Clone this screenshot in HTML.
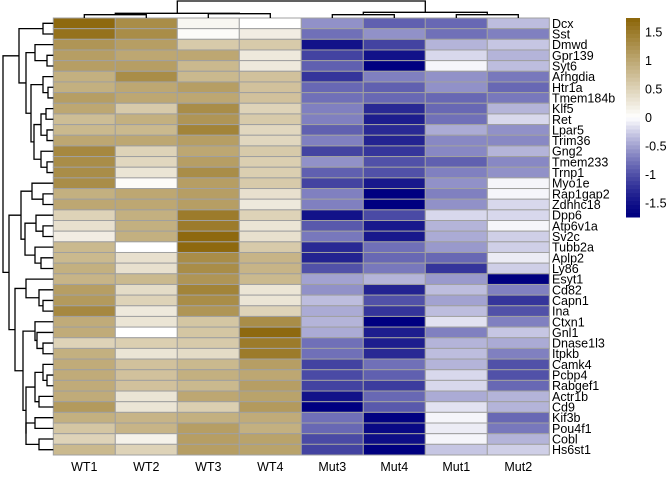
<!DOCTYPE html>
<html><head><meta charset="utf-8"><style>
body{margin:0;background:#fff;}
svg text{font-family:"Liberation Sans",Arial,sans-serif;}
</style></head><body>
<svg id="hm" width="672" height="480" xmlns="http://www.w3.org/2000/svg">
<rect width="672" height="480" fill="#fff"/>
<g id="cells"></g>
<g id="rowlab"></g>
<g id="collab"></g>
<g id="rowdend"></g>
<g id="coldend"></g>
<g id="legend"></g>
</svg>
<script>
const columns = ["WT1","WT2","WT3","WT4","Mut3","Mut4","Mut1","Mut2"];
const genes = ["Dcx","Sst","Dmwd","Gpr139","Syt6","Arhgdia","Htr1a","Tmem184b","Klf5","Ret","Lpar5","Trim36","Gng2","Tmem233","Trnp1","Myo1e","Rap1gap2","Zdhhc18","Dpp6","Atp6v1a","Sv2c","Tubb2a","Aplp2","Ly86","Esyt1","Cd82","Capn1","Ina","Ctxn1","Gnl1","Dnase1l3","Itpkb","Camk4","Pcbp4","Rabgef1","Actr1b","Cd9","Kif3b","Pou4f1","Cobl","Hs6st1"];
const values = [
[1.7,1.3,0.1,0.0,-0.6,-0.9,-0.85,-0.35],
[1.6,1.3,0.05,0.2,-0.8,-0.6,-0.8,-0.7],
[1.2,1.1,0.6,0.6,-1.5,-1.1,-0.4,-0.3],
[1.1,1.0,1.0,0.25,-1.1,-1.5,-0.2,-0.4],
[1.1,1.1,0.8,0.25,-0.9,-1.85,-0.05,-0.35],
[0.9,1.3,0.8,0.7,-1.2,-0.7,-0.6,-0.75],
[0.9,1.0,1.1,0.7,-0.85,-0.9,-0.6,-0.85],
[1.1,1.0,1.0,0.7,-0.8,-0.85,-0.85,-0.75],
[1.0,0.6,1.3,0.5,-0.7,-1.3,-0.85,-0.4],
[0.75,0.9,1.2,0.6,-0.7,-1.4,-0.8,-0.2],
[0.8,0.8,1.4,0.45,-0.9,-1.3,-0.45,-0.6],
[1.0,1.0,1.1,0.45,-0.7,-1.35,-0.65,-0.65],
[1.35,0.5,1.0,0.6,-1.1,-1.2,-0.65,-0.4],
[1.3,0.45,1.1,0.55,-0.6,-1.0,-0.9,-0.65],
[1.3,0.3,1.3,0.55,-0.9,-1.0,-0.7,-0.6],
[1.3,0.05,1.1,0.6,-1.1,-1.45,-0.6,-0.05],
[0.9,1.0,1.1,0.35,-0.7,-1.9,-0.7,-0.05],
[1.0,1.0,1.1,0.25,-0.7,-1.8,-0.6,-0.2],
[0.5,0.9,1.5,0.5,-1.5,-1.05,-0.2,-0.2],
[0.35,0.9,1.5,0.3,-0.95,-1.45,-0.4,-0.05],
[0.2,0.9,1.7,0.35,-0.75,-1.45,-0.45,-0.25],
[0.8,0.0,1.7,0.6,-1.3,-0.8,-0.55,-0.25],
[0.8,0.35,1.3,0.85,-1.35,-0.85,-0.85,-0.1],
[0.9,0.35,1.3,0.85,-1.0,-0.75,-1.2,-0.25],
[0.85,0.8,1.2,0.8,-0.5,-0.4,-0.55,-1.85],
[1.1,0.4,1.4,0.3,-0.6,-1.35,-0.35,-0.7],
[1.15,0.5,1.3,0.3,-0.35,-1.0,-0.5,-1.2],
[1.35,0.25,1.2,0.5,-0.45,-1.2,-0.35,-1.0],
[0.95,0.3,0.65,1.3,-0.4,-1.85,-0.15,-0.7],
[0.95,0.0,0.65,1.7,-0.45,-1.4,-0.7,-0.3],
[0.5,0.55,0.6,1.5,-0.8,-1.4,-0.4,-0.45],
[0.9,0.3,0.4,1.5,-0.8,-1.3,-0.35,-0.7],
[0.95,0.7,0.8,1.1,-1.1,-0.8,-0.4,-1.0],
[0.95,0.7,0.9,1.0,-1.05,-0.9,-0.2,-1.0],
[0.95,0.7,0.8,1.1,-1.1,-1.15,-0.2,-0.85],
[0.95,0.3,1.0,1.05,-1.5,-0.85,-0.45,-0.4],
[1.15,0.3,0.55,1.15,-1.75,-0.95,-0.15,-0.4],
[0.9,0.85,0.9,0.95,-0.8,-1.7,-0.05,-0.85],
[0.65,0.85,1.1,0.9,-0.85,-1.6,-0.1,-0.75],
[0.5,0.15,1.1,1.05,-1.05,-1.55,-0.05,-0.4],
[0.8,0.5,1.1,1.05,-1.1,-1.75,-0.3,-0.25]
];
const legendTicks = [1.5,1,0.5,0,-0.5,-1,-1.5];
const vMin = -1.75, vMax = 1.75;

const NS="http://www.w3.org/2000/svg";
const X0=53.3, CW=62, Y0=18, RH=(455-18)/41;
const xCol=i=>X0+i*CW, yRow=i=>Y0+i*RH;
function color(v){
  let t=(v-vMin)/(vMax-vMin); t=Math.max(0,Math.min(1,t));
  let a,b,u;
  if(t<0.5){a=[0,0,128];b=[255,255,255];u=Math.pow(t/0.5,1.35);}else{a=[255,255,255];b=[139,101,8];u=(t-0.5)/0.5;}
  return `rgb(${a.map((c,k)=>Math.round(c+(b[k]-c)*u)).join(',')})`;
}
function mk(tag,attrs,parent){const e=document.createElementNS(NS,tag);for(const k in attrs)e.setAttribute(k,attrs[k]);parent.appendChild(e);return e;}
const cells=document.getElementById('cells');
values.forEach((row,r)=>row.forEach((v,c)=>{
  const e=mk('rect',{x:xCol(c),y:yRow(r),width:CW,height:RH,fill:color(v),stroke:'#a0a0a0','stroke-width':1},cells);
  
  
}));
const rl=document.getElementById('rowlab');
genes.forEach((g,r)=>{
  const t=mk('text',{x:552,y:yRow(r)+RH/2+4.5,'font-size':12.5,fill:'#000'},rl);
  t.textContent=g;
  
  
});
const cl=document.getElementById('collab');
columns.forEach((c,i)=>{
  const t=mk('text',{x:xCol(i)+CW/2,y:471,'font-size':12.5,'text-anchor':'middle',fill:'#000'},cl);
  t.textContent=c;
  
  
});
const rowTree=[[[0,1,43],[[2,[3,4,47],35],[[5,[6,7,48],43],[[[8,9,46],[10,11,47],41],[12,[13,14,47],41],34],31],26],19],
 [[[15,[16,17,43],32],[[18,[19,20,43],36],[21,[22,23,41],35],25],21],
  [[24,[25,[26,27,43],39],26],[[28,[29,[30,31,43],37],35],[[[32,[33,34,47],43],[35,36,39],35],[[37,38,35],[39,40,39],26],26],23],15],9],3];
const rd=document.getElementById('rowdend');
function drawRow(n){
  if(typeof n==='number')return{y:yRow(n)+RH/2,x:X0};
  const a=drawRow(n[0]),b=drawRow(n[1]),x=n[2];
  const p=mk('path',{d:`M${a.x},${a.y}H${x}V${b.y}H${b.x}`,fill:'none',stroke:'#000','stroke-width':1.3},rd);
  
  
  return{y:(a.y+b.y)/2,x:x};
}
drawRow(rowTree);
const colTree=[[[0,1,14.7],[2,3,13.7],13.3],[[4,5,14.7],[6,7,14.7],12.3],1];
const cd=document.getElementById('coldend');
function drawCol(n){
  if(typeof n==='number')return{x:xCol(n)+CW/2,y:Y0};
  const a=drawCol(n[0]),b=drawCol(n[1]),y=n[2];
  const p=mk('path',{d:`M${a.x},${a.y}V${y}H${b.x}V${b.y}`,fill:'none',stroke:'#000','stroke-width':1.3},cd);
  
  
  return{x:(a.x+b.x)/2,y:y};
}
drawCol(colTree);
const lg=document.getElementById('legend');
const LT=18,LB=217,LX=626,LW=14;
const lv=v=>117.5-(v)*57;
const N=50;
for(let i=0;i<N;i++){
  const v=vMax-(i+0.5)*(vMax-vMin)/N;
  const e=mk('rect',{x:LX,y:LT+i*(LB-LT)/N,width:LW,height:(LB-LT)/N+0.5,fill:color(v)},lg);
  
  
}
legendTicks.forEach(v=>{
  const t=mk('text',{x:645,y:lv(v)+4.5,'font-size':12.5,fill:'#000'},lg);
  t.textContent=String(v);
  
  
});
</script>
</body></html>
